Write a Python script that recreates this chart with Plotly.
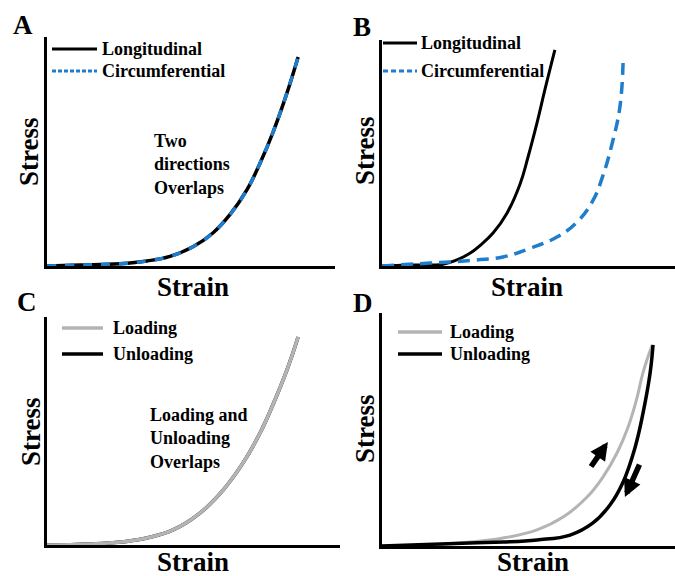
import plotly.graph_objects as go

# ---------------- data (normalised strain / stress) ----------------
A_strain = [0, 0.115, 0.253, 0.347, 0.427, 0.507, 0.576, 0.635, 0.694, 0.740, 0.785, 0.833, 0.872]
A_stress = [0, 0.004, 0.010, 0.022, 0.042, 0.084, 0.144, 0.224, 0.332, 0.450, 0.585, 0.755, 0.913]

B_long_strain = [0, 0.096, 0.208, 0.256, 0.300, 0.334, 0.379, 0.427, 0.471, 0.498, 0.529, 0.556, 0.590]
B_long_stress = [0, 0.004, 0.008, 0.027, 0.056, 0.090, 0.146, 0.235, 0.362, 0.480, 0.633, 0.780, 0.956]
B_circ_strain = [0, 0.164, 0.232, 0.324, 0.413, 0.505, 0.597, 0.666, 0.720, 0.754, 0.785, 0.812, 0.823]
B_circ_stress = [0, 0.013, 0.018, 0.027, 0.040, 0.078, 0.128, 0.195, 0.290, 0.400, 0.540, 0.704, 0.912]

C_strain = [0, 0.147, 0.283, 0.341, 0.430, 0.522, 0.601, 0.669, 0.727, 0.771, 0.819, 0.857]
C_stress = [0, 0.004, 0.018, 0.031, 0.066, 0.140, 0.241, 0.360, 0.491, 0.615, 0.768, 0.912]

D_load_strain = [0, 0.164, 0.300, 0.413, 0.529, 0.618, 0.700, 0.754, 0.802, 0.840, 0.870, 0.891, 0.922]
D_load_stress = [0, 0.004, 0.017, 0.034, 0.069, 0.124, 0.210, 0.296, 0.399, 0.511, 0.635, 0.745, 0.863]
D_unload_strain = [0, 0.300, 0.413, 0.529, 0.642, 0.720, 0.778, 0.823, 0.863, 0.891, 0.915, 0.925]
D_unload_stress = [0, 0.013, 0.017, 0.026, 0.047, 0.099, 0.176, 0.275, 0.420, 0.571, 0.742, 0.863]

panel_labels = ["A", "B", "C", "D"]
legend_AB = ["Longitudinal", "Circumferential"]
legend_CD = ["Loading", "Unloading"]
note_A = "Two<br>directions<br>Overlaps"
note_C = "Loading and<br>Unloading<br>Overlaps"

BLUE = "#1f7dcc"
GRAY = "#b4b4b4"
BLACK = "#000000"
FONT = "Liberation Serif, Times New Roman, serif"

W, H = 675, 576
def px(x):
    return x / W
def py(y):
    return 1 - y / H

fig = go.Figure()

def line(x, y, ax, color, width, dash="solid"):
    fig.add_trace(go.Scatter(
        x=x, y=y, mode="lines", xaxis="x" + ax, yaxis="y" + ax,
        line=dict(color=color, width=width, dash=dash, shape="spline", smoothing=1.2),
        showlegend=False, hoverinfo="skip"))

# A
line(A_strain, A_stress, "", BLACK, 3.5)
line(A_strain, A_stress, "", BLUE, 3.5, "9px,9px")
# B
line(B_long_strain, B_long_stress, "2", BLACK, 3)
line(B_circ_strain, B_circ_stress, "2", BLUE, 3.5, "12px,7px")
# C
line(C_strain, C_stress, "3", BLACK, 3.5)
line(C_strain, C_stress, "3", GRAY, 3.5)
# D
line(D_load_strain, D_load_stress, "4", GRAY, 3)
line(D_unload_strain, D_unload_stress, "4", BLACK, 3.5)

axis_common = dict(showline=True, linecolor=BLACK, linewidth=3, showticklabels=False,
                   ticks="", showgrid=False, zeroline=False, range=[0, 1], fixedrange=True)

domains = {
    "": ([px(47), px(335)], [py(266), py(37)]),
    "2": ([px(382), 1.0], [py(266), py(40)]),
    "3": ([px(47), px(340)], [py(545), py(317)]),
    "4": ([px(382), 1.0], [py(546), py(313)]),
}
layout_axes = {}
for k, (dx, dy) in domains.items():
    xn = "xaxis" + k
    yn = "yaxis" + k
    layout_axes[xn] = dict(domain=dx, anchor="y" + k, **axis_common)
    layout_axes[yn] = dict(domain=dy, anchor="x" + k, **axis_common)

ann = []
def text(x, y, s, size, xanchor="center", angle=0, align="center"):
    ann.append(dict(x=px(x), y=py(y), xref="paper", yref="paper", text="<b>" + s + "</b>",
                    showarrow=False, xanchor=xanchor, yanchor="middle", textangle=angle,
                    align=align, font=dict(family=FONT, size=size, color=BLACK)))

# panel letters
for lab, (x, y) in zip(panel_labels, [(23, 25), (362, 27), (27, 302), (363, 303)]):
    text(x, y, lab, 27)
# axis titles
for (x, y) in [(29, 151), (365, 151), (31, 432), (365, 429)]:
    text(x, y, "Stress", 27, angle=-90)
for (x, y) in [(193, 287), (527, 287), (193, 562), (533, 562)]:
    text(x, y, "Strain", 27)

# legends (decoration)
shapes = []
def seg(x0, x1, y, color, width, dash="solid"):
    shapes.append(dict(type="line", xref="paper", yref="paper", x0=px(x0), x1=px(x1),
                       y0=py(y), y1=py(y), line=dict(color=color, width=width, dash=dash)))

seg(52, 97, 49, BLACK, 3)
seg(52, 97, 71, BLUE, 3, "4px,2px")
text(100, 49, legend_AB[0], 18, "left")
text(100, 71, legend_AB[1], 18, "left")

seg(383, 417, 43, BLACK, 3)
seg(383, 417, 71, BLUE, 3, "5px,3px")
text(419, 43, legend_AB[0], 18, "left")
text(419, 71, legend_AB[1], 18, "left")

seg(62, 103, 328, GRAY, 3.5)
seg(62, 103, 354, BLACK, 3.5)
text(111, 328, legend_CD[0], 18, "left")
text(111, 354, legend_CD[1], 18, "left")

seg(398, 442, 332, GRAY, 3.5)
seg(398, 442, 354, BLACK, 3.5)
text(448, 332, legend_CD[0], 18, "left")
text(448, 354, legend_CD[1], 18, "left")

# notes
text(152, 165, note_A, 18, "left", align="left")
text(148, 438, note_C, 18, "left", align="left")

# arrows in D (data coordinates): tail -> tip
for (x0, y0, x1, y1) in [(0.710, 0.335, 0.771, 0.446), (0.881, 0.356, 0.829, 0.210)]:
    ann.append(dict(x=x1, y=y1, ax=x0, ay=y0, xref="x4", yref="y4", axref="x4", ayref="y4",
                    showarrow=True, arrowhead=2, arrowsize=0.65, arrowwidth=5.5,
                    arrowcolor=BLACK, text=""))

fig.update_layout(
    width=W, height=H, margin=dict(l=0, r=0, t=0, b=0),
    paper_bgcolor="white", plot_bgcolor="white",
    showlegend=False, annotations=ann, shapes=shapes, **layout_axes)

fig.write_html("out.html", config={"displayModeBar": False},
               post_script="document.body.style.margin='0';document.body.style.padding='0';")
